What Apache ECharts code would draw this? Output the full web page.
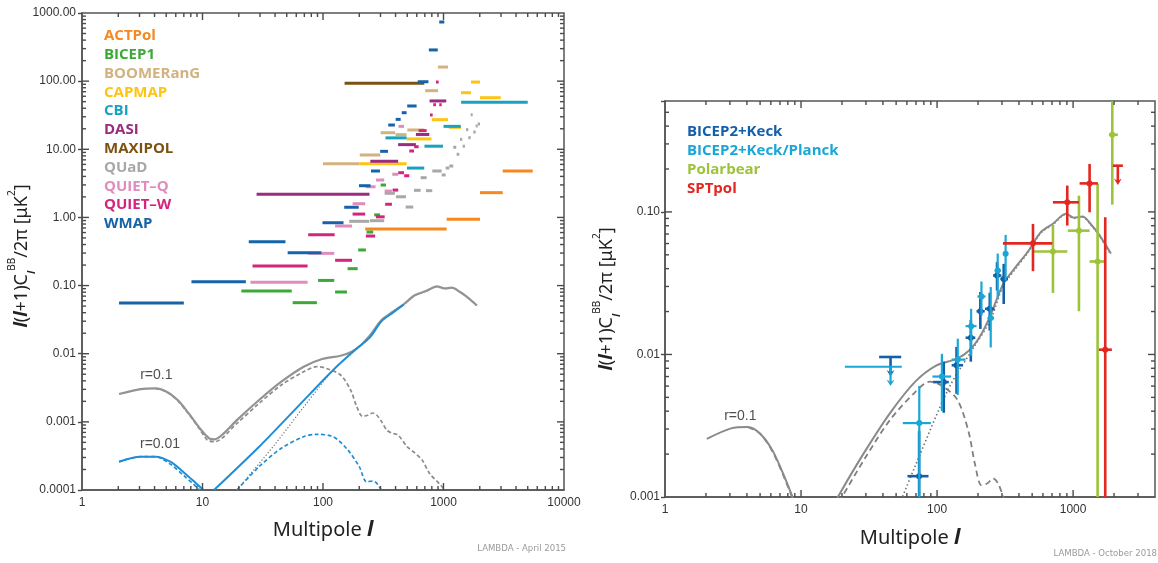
<!DOCTYPE html>
<html>
<head>
<meta charset="utf-8">
<title>CMB B-mode power spectrum</title>
<script src="https://cdn.jsdelivr.net/npm/echarts@6/dist/echarts.min.js"></script>
<style>
  html, body { margin: 0; padding: 0; background: #ffffff; }
  #chart { width: 1158px; height: 563px; }
</style>
</head>
<body>
<div id="chart"></div>
<script>
// ---------------- Left panel: BB upper limits, rows are [ell_min, ell_max, limit in uK^2] ----------------
const actpol = [[224,1062,0.676],[1062,2008,0.938],[2008,3100,2.31],[3100,5500,4.80]];
const bicep1 = [[301,333,2.99],[266,297,1.09],[230,261,0.61],[196,227,0.333],[160,194,0.177],
                [91,124,0.119],[21,55,0.083],[126,158,0.0805],[56,89,0.0561]];
const boomerang = [[899,1089,161],[704,901,72.4],[301,397,17.5],[400,494,16.4],[501,694,19.2],
                   [202,299,8.25],[100,200,6.15]];
const capmap = [[1690,2010,97],[1396,1690,67.6],[2010,2985,57.1],[800,1091,27.2],[1107,1399,21],
                [494,795,14.2],[200,494,6.15]];
const cbi = [[1400,5000,48.9],[1000,1390,21.7],[330,494,14.7],[695,990,11.1],[498,692,5.3]];
const dasi = [[766,1054,51.2],[590,762,16.5],[420,590,11.7],[247,420,6.67],[28.1,243,2.18]];
const maxipol = [[151,693,93]];
const quad = [[165,242,0.877],[245,322,0.895],[325,395,2.26],[403,488,2.01],[485,561,1.42],
              [569,646,2.50],[715,807,2.47],[646,725,3.83],[807,966,4.80],[966,1042,4.20],
              [1042,1117,5.31],[1117,1205,5.68],[1205,1276,10.7],[1285,1352,8.44],[1370,1431,14.0],
              [1442,1507,11.1],[1536,1606,19.4],[1606,1681,14.8],[1681,1746,32.1],[1766,1849,17.9],
              [1849,1922,22.0],[1922,2009,23.5]];
const quietQ = [[424,470,21.7],[376,421,4.30],[275,322,3.54],[226,273,2.82],[325,373,2.44],
                [176,224,1.59],[126,174,0.748],[75.4,124,0.297],[25,74.5,0.112]];
const quietW = [[866,912,97],[822,866,45.1],[922,966,45.1],[772,813,31.9],[622,725,18.8],
                [571,622,10.9],[520,569,9.44],[421,470,4.53],[472,520,4.09],[378,421,2.52],
                [328,373,1.56],[275,325,1.02],[227,271,0.533],[176,224,1.12],[75.4,125,0.557],
                [126,174,0.235],[26,74.5,0.194]];
const wmap = [[2.03,7.0,0.0555],[8.1,22.9,0.114],[24.2,48.8,0.44],[50.9,97,0.303],[99,148,0.836],
              [150,198,1.41],[199,248,2.92],[250,297,4.80],[298,346,9.33],[348,395,22.7],
              [401,441,27.5],[450,494,34.4],[500,598,43.2],[611,750,98],[756,896,287],[922,1016,738]];

const experimentNames = ['ACTPol','BICEP1','BOOMERanG','CAPMAP','CBI','DASI','MAXIPOL','QUaD',
                         'QUIET\u2013Q','QUIET\u2013W','WMAP'];
const experimentColors = ['#f5891f','#3aa935','#d2b27e','#fdc411','#17a3bf','#9b2b7f','#7b5213',
                          '#a8a8a8','#e08cbd','#d3247e','#1563a8'];
const experimentData = [actpol, bicep1, boomerang, capmap, cbi, dasi, maxipol, quad, quietQ, quietW, wmap];

// ---------------- Theory spectra, l(l+1)C_l^BB/2pi in uK^2 ----------------
const ellTotal = [2.03,3.06,4.06,5.03,6.22,7.69,9.51,11.35,12.6,14.5,19.3,29.5,45.1,69.1,98.4,140,173,207,
                  247,305,378,467,578,715,884,1018,1172,1351,1557,1897];
const bbTotalR01 = [0.00256,0.00303,0.0031,0.00277,0.00209,0.00133,0.000803,0.000573,0.000554,0.000641,
                    0.00106,0.00209,0.00388,0.00645,0.00836,0.00935,0.0107,0.0134,0.0188,0.031,0.041,
                    0.053,0.072,0.083,0.097,0.091,0.093,0.082,0.069,0.051];
const ellTensor = [4.06,5.03,6.22,7.69,9.51,10.96,12.6,19.3,29.5,45.1,69.1,88.5,106,140,170,190,212,235,
                   258,280,307,340,378,420,501,578,665,767,948,1018];
const bbTensorR01 = [0.0031,0.00277,0.00205,0.0013,0.000775,0.000541,0.000512,0.00095,0.00187,0.00347,
                     0.00545,0.00645,0.0061,0.00487,0.0029,0.0017,0.00121,0.00125,0.00135,0.00125,0.001,
                     0.00075,0.00068,0.00064,0.00043,0.00035,0.000275,0.000175,0.000118,0.0001];
const ellLensing = [19.3,40,70,121.6,186,247,305,378,467,578,715,884,1018,1172,1351,1557,1897];
const bbLensing = [0.0001,0.00047,0.0017,0.00577,0.0112,0.0175,0.030,0.040,0.052,0.071,0.082,0.096,
                   0.090,0.092,0.081,0.068,0.050];
const ellTotalR001 = [2.03,3.06,4.06,5.4,7.16,8.86,10.2,11.3,12.45,29.5,59.9,121.6,186,247,305,378,467];
const bbTotalR001 = [0.00026,0.000308,0.000308,0.00026,0.000175,0.000125,0.0001,null,0.0001,0.000432,
                     0.00158,0.00577,0.0115,0.0177,0.0298,0.0398,0.0525];
const ellTensorR001 = [2.03,3.06,4.06,5.4,7.16,9.51,14,19.3,29.5,45.1,69.1,88.5,121.6,161,200,230,256,276,305];
const bbTensorR001 = [0.00026,0.000308,0.000308,0.00024,0.000157,0.0001,null,0.0001,0.00022,0.00041,
                      0.000605,0.000655,0.000605,0.000386,0.00022,0.000132,0.000135,0.000128,0.0001];

// ---------------- Right panel: bandpowers, rows are [ell, value, low, high, ell_min, ell_max] ----------------
const bicepKeck = [[73.8,0.0014,0.0006,0.0029,60.6,86.5],[112,0.0064,0.0039,0.0089,93.5,122],
                   [139,0.0084,0.0053,0.0113,128,155],[177,0.0131,0.0089,0.0175,162,191],
                   [208,0.0201,0.0151,0.0274,195,224],[244,0.0209,0.0147,0.0271,225,264],
                   [276,0.0358,0.0281,0.0444,258,297],[309,0.0339,0.0226,0.0432,292,332]];
const bicepKeckPlanck = [[74,0.0033,0.0008,0.0060,56,90],[108.5,0.0070,0.0040,0.0101,92.5,127],
                         [142,0.0092,0.0052,0.0129,128,162],[178,0.0158,0.0098,0.0209,162,195],
                         [212,0.0255,0.0187,0.0325,198,227],[248,0.018,0.0112,0.0297,235,262],
                         [279,0.0388,0.0252,0.051,265,295],[319,0.0508,0.033,0.069,305,333]];
const polarbear = [[711,0.0527,0.0270,0.0811,515,906],[1104,0.0739,0.0201,0.130,916,1322],
                   [1514,0.0449,0.0005,0.158,1322,1703],[1941,0.348,0.1125,0.9,1833,2133]];
const sptpol = [[507,0.0602,0.0384,0.0824,305,703],[906,0.1168,0.0802,0.153,711,1104],
                [1322,0.1585,0.0994,0.217,1116,1521],[1723,0.0108,0.0005,0.0917,1548,1927]];
// upper limits: [ell, limit, arrow tip, ell_min, ell_max]
const bicepKeckLimit = [[45.5,0.0096,0.0070,37.5,54.5]];
const bicepKeckPlanckLimit = [[45.5,0.0082,0.0060,21,55]];
const sptpolLimit = [[2133,0.211,0.1545,1960,2322]];

const rightNames = ['BICEP2+Keck','BICEP2+Keck/Planck','Polarbear','SPTpol'];
const rightColors = ['#1460a8','#1aa6d6','#9dc33b','#e3261f'];

// ---------------- Axis ranges and tick labels ----------------
const leftRange = { xmin: 1, xmax: 10000, ymin: 0.0001, ymax: 1000 };
const rightRange = { xmin: 1, xmax: 4000, ymin: 0.001, ymax: 0.6 };
const leftXLabels = ['1','10','100','1000','10000'];          // exponents 0..4
const leftYLabels = ['0.0001','0.001','0.01','0.10','1.00','10.00','100.00','1000.00']; // -4..3
const rightXLabels = ['1','10','100','1000'];                  // 0..3
const rightYLabels = ['0.001','0.01','0.10'];                  // -3..-1
const curveLabelsLeft = [{text:'r=0.1', at:[4.14,0.00486]}, {text:'r=0.01', at:[4.44,0.000468]}];
const curveLabelsRight = [{text:'r=0.1', at:[3.58,0.00368]}];

const AXIS_COLOR = '#555555';
const TICK_COLOR = '#4a4a4a';
const TEXT_COLOR = '#222222';
const SANS = "'Liberation Sans', Arial, sans-serif";
const HEAD = "'Open Sans', 'Noto Sans', sans-serif";
const NOTO = "'Noto Sans', sans-serif";

function pairs(xs, ys) {
  return xs.map((x, i) => [x, ys[i] === null ? '-' : ys[i]]);
}
function powerLabel(labels, offset) {
  return function (v) {
    const e = Math.log10(v);
    const r = Math.round(e);
    if (Math.abs(e - r) > 1e-6) return '';
    const s = labels[r + offset];
    return s === undefined ? '' : s;
  };
}
// 2..9 x 10^k strictly between lo and hi
function decadeSteps(lo, hi) {
  const out = [];
  for (let e = Math.round(Math.log10(lo)); Math.pow(10, e) < hi; e++) {
    for (let m = 2; m <= 9; m++) {
      const v = +(m * Math.pow(10, e)).toPrecision(6);
      if (v > lo && v < hi) out.push(v);
    }
  }
  return out;
}
// powers of ten strictly inside (lo, hi)
function decadePowers(lo, hi) {
  const out = [];
  for (let e = Math.round(Math.log10(lo)) + 1; Math.pow(10, e) < hi * 0.999; e++) {
    out.push(+Math.pow(10, e).toPrecision(6));
  }
  return out;
}

// inward tick marks on both opposite edges of a grid; the tick value is always dimension 0
function edgeTicks(dir, len, rg) {
  return function (params, api) {
    const v = api.value(0);
    const mk = (x1, y1, x2, y2) => ({ type: 'line', shape: { x1: x1, y1: y1, x2: x2, y2: y2 },
                                      style: { stroke: TICK_COLOR, lineWidth: 1.4 } });
    if (dir === 'x') {
      const pb = api.coord([v, rg.ymin]), pt = api.coord([v, rg.ymax]);
      const x = pb[0];
      return { type: 'group', children: [ mk(x, pb[1], x, pb[1] - len), mk(x, pt[1], x, pt[1] + len) ] };
    }
    const pl = api.coord([rg.xmin, v]), pr = api.coord([rg.xmax, v]);
    const y = pl[1];
    return { type: 'group', children: [ mk(pl[0], y, pl[0] + len, y), mk(pr[0], y, pr[0] - len, y) ] };
  };
}
function tickSeries(gridIdx, rg) {
  const xRef = Math.sqrt(rg.xmin * rg.xmax), yRef = Math.sqrt(rg.ymin * rg.ymax);
  const sets = [
    ['x', 7, decadePowers(rg.xmin, rg.xmax)], ['x', 4, decadeSteps(rg.xmin, rg.xmax)],
    ['y', 7, decadePowers(rg.ymin, rg.ymax)], ['y', 4, decadeSteps(rg.ymin, rg.ymax)]
  ];
  return sets.map(([dir, len, vals]) => ({
    type: 'custom', coordinateSystem: 'cartesian2d', xAxisIndex: gridIdx, yAxisIndex: gridIdx,
    silent: true, z: 10,
    encode: dir === 'x' ? { x: 0, y: 1 } : { y: 0, x: 1 },
    renderItem: edgeTicks(dir, len, rg),
    data: vals.map(v => [v, dir === 'x' ? yRef : xRef])
  }));
}

// horizontal band bars
function renderBand(params, api) {
  const a = api.coord([api.value(0), api.value(2)]);
  const b = api.coord([api.value(1), api.value(2)]);
  return { type: 'line', shape: { x1: a[0], y1: a[1], x2: b[0], y2: b[1] },
           style: { stroke: api.visual('color'), lineWidth: 3 } };
}
// bandpower with error bars
function renderCross(lw, r) {
  return function (params, api) {
    const l = api.value(0), v = api.value(1);
    const c = api.coord([l, v]);
    const lo = api.coord([l, api.value(2)]), hi = api.coord([l, api.value(3)]);
    const a = api.coord([api.value(4), v]), b = api.coord([api.value(5), v]);
    const color = api.visual('color');
    return { type: 'group', children: [
      { type: 'line', shape: { x1: a[0], y1: c[1], x2: b[0], y2: c[1] }, style: { stroke: color, lineWidth: lw } },
      { type: 'line', shape: { x1: c[0], y1: lo[1], x2: c[0], y2: hi[1] }, style: { stroke: color, lineWidth: lw } },
      { type: 'circle', shape: { cx: c[0], cy: c[1], r: r }, style: { fill: color } }
    ]};
  };
}
// upper limit: cap plus downward arrow
function renderLimit(lw) {
  return function (params, api) {
    const l = api.value(0);
    const top = api.coord([l, api.value(1)]), tip = api.coord([l, api.value(2)]);
    const a = api.coord([api.value(3), api.value(1)]), b = api.coord([api.value(4), api.value(1)]);
    const color = api.visual('color');
    return { type: 'group', children: [
      { type: 'line', shape: { x1: a[0], y1: top[1], x2: b[0], y2: top[1] }, style: { stroke: color, lineWidth: lw } },
      { type: 'line', shape: { x1: tip[0], y1: top[1], x2: tip[0], y2: tip[1] - 3 }, style: { stroke: color, lineWidth: lw } },
      { type: 'polygon', shape: { points: [[tip[0] - 4, tip[1] - 6.5], [tip[0], tip[1]], [tip[0] + 4, tip[1] - 6.5], [tip[0], tip[1] - 4]] },
        style: { fill: color } }
    ]};
  };
}

const series = [];

// left panel bars
experimentNames.forEach((name, i) => {
  series.push({ type: 'custom', name: name, xAxisIndex: 0, yAxisIndex: 0, clip: true,
    itemStyle: { color: experimentColors[i] }, encode: { x: [0, 1], y: 2 },
    renderItem: renderBand, data: experimentData[i], z: 3 });
});

// theory curves
function curve(grid, xs, ys, color, width, type, z) {
  return { type: 'line', xAxisIndex: grid, yAxisIndex: grid, data: pairs(xs, ys), showSymbol: false,
    smooth: 0.3, clip: true, silent: true, z: z || 2, connectNulls: false,
    lineStyle: { color: color, width: width, type: type || 'solid' } };
}
series.push(curve(0, ellLensing, bbLensing, '#6f6f6f', 1.2, [1.2, 2], 2));
series.push(curve(0, ellTensor, bbTensorR01, '#8c8c8c', 1.7, [4, 2.5], 2));
series.push(curve(0, ellTotal, bbTotalR01, '#939393', 2.2, 'solid', 2));
series.push(curve(0, ellTensorR001, bbTensorR001, '#1e8fd6', 1.7, [4, 2.5], 3));
series.push(curve(0, ellTotalR001, bbTotalR001, '#1e8fd6', 2, 'solid', 3));
series.push(curve(1, ellLensing, bbLensing, '#6f6f6f', 1.6, [1.5, 2.5], 2));
series.push(curve(1, ellTensor, bbTensorR01, '#808080', 1.8, [6, 4], 2));
series.push(curve(1, ellTotal, bbTotalR01, '#8a8a8a', 2, 'solid', 2));

// right panel bandpowers
const rightSets = [
  [bicepKeckPlanck, bicepKeckPlanckLimit, 1, 2.2],
  [bicepKeck, bicepKeckLimit, 0, 2.6],
  [polarbear, null, 2, 2.6],
  [sptpol, sptpolLimit, 3, 2.6]
];
rightSets.forEach(([pts, lim, ci, lw]) => {
  const common = { type: 'custom', name: rightNames[ci], xAxisIndex: 1, yAxisIndex: 1, clip: true,
    itemStyle: { color: rightColors[ci] }, encode: { x: [0, 4, 5], y: [1, 2, 3] }, z: 4 + ci * 0.1 };
  series.push(Object.assign({ renderItem: renderCross(lw, 3), data: pts }, common));
  if (lim) {
    series.push(Object.assign({}, common, { renderItem: renderLimit(lw), data: lim,
      encode: { x: [0, 3, 4], y: [1, 2] } }));
  }
});

// curve annotations
function annotations(grid, list) {
  return { type: 'scatter', xAxisIndex: grid, yAxisIndex: grid, silent: true, symbolSize: 0, z: 6,
    data: list.map(d => ({ value: d.at, label: { formatter: d.text } })),
    label: { show: true, position: 'inside', color: TEXT_COLOR, fontSize: 14, fontFamily: SANS } };
}
series.push(annotations(0, curveLabelsLeft));
series.push(annotations(1, curveLabelsRight));

// edge ticks on all four sides
series.push(...tickSeries(0, leftRange));
series.push(...tickSeries(1, rightRange));

// vertical axis title, l(l+1)C_l^BB/2pi [uK^2]
const yTitleRich = {
  it:  { fontFamily: NOTO, fontSize: 18, fontStyle: 'italic', fontWeight: 'bold', fill: TEXT_COLOR, color: TEXT_COLOR, lineHeight: 30 },
  n:   { fontFamily: NOTO, fontSize: 18, fill: TEXT_COLOR, color: TEXT_COLOR, lineHeight: 30 },
  sub: { fontFamily: NOTO, fontSize: 11, fontStyle: 'italic', fontWeight: 'bold', fill: TEXT_COLOR, color: TEXT_COLOR, lineHeight: 14, verticalAlign: 'bottom' },
  sup: { fontFamily: NOTO, fontSize: 10, fill: TEXT_COLOR, color: TEXT_COLOR, lineHeight: 16, verticalAlign: 'top' }
};
const yTitle = '{it|l}{n|(}{it|l}{n|+1)C}{sub|l}{sup|BB}{n|/2\u03c0 [\u03bcK}{sup|2}{n|]}';
function yTitleGraphic(x, y) {
  return { type: 'text', x: x, y: y, rotation: Math.PI / 2, silent: true,
    style: { text: yTitle, rich: yTitleRich, align: 'center', verticalAlign: 'middle',
             textAlign: 'center', textVerticalAlign: 'middle', fill: TEXT_COLOR } };
}
const xNameStyle = { fontFamily: NOTO, fontSize: 20, color: TEXT_COLOR,
  rich: { l: { fontFamily: NOTO, fontSize: 21, fontStyle: 'italic', fontWeight: 'bold', color: TEXT_COLOR } } };

function xAxisCfg(grid, rg, labels, gap) {
  return { type: 'log', logBase: 10, gridIndex: grid, min: rg.xmin, max: rg.xmax,
    axisLine: { show: true, lineStyle: { color: AXIS_COLOR, width: 1.5 } },
    axisTick: { show: false }, splitLine: { show: false }, minorTick: { show: false },
    axisLabel: { formatter: powerLabel(labels, 0), margin: 7, fontSize: 12, color: '#333', fontFamily: SANS },
    name: 'Multipole {l|l}', nameLocation: 'middle', nameGap: gap, nameMoveOverlap: false,
    nameTextStyle: xNameStyle };
}
function yAxisCfg(grid, rg, labels, offset, margin) {
  return { type: 'log', logBase: 10, gridIndex: grid, min: rg.ymin, max: rg.ymax,
    axisLine: { show: true, lineStyle: { color: AXIS_COLOR, width: 1.5 } },
    axisTick: { show: true, inside: false, length: 4, lineStyle: { color: TICK_COLOR, width: 1.4 } },
    splitLine: { show: false },
    axisLabel: { formatter: powerLabel(labels, offset), margin: margin, fontSize: 12, color: '#333', fontFamily: SANS } };
}

const option = {
  animation: false,
  backgroundColor: '#ffffff',
  grid: [
    { left: 82, top: 13, width: 482, height: 477, show: true, borderColor: AXIS_COLOR, borderWidth: 1.5 },
    { left: 665, top: 101, width: 490.5, height: 396, show: true, borderColor: AXIS_COLOR, borderWidth: 1.5 }
  ],
  xAxis: [ xAxisCfg(0, leftRange, leftXLabels, 30), xAxisCfg(1, rightRange, rightXLabels, 31) ],
  yAxis: [ yAxisCfg(0, leftRange, leftYLabels, 4, 6), yAxisCfg(1, rightRange, rightYLabels, 3, 5) ],
  legend: [
    { orient: 'vertical', left: 99, top: 26.6, padding: 0, itemWidth: 0, itemHeight: 10, itemGap: 0, icon: 'none',
      selectedMode: false,
      textStyle: { fontFamily: HEAD, fontWeight: 'bold', fontSize: 15, lineHeight: 18.8 },
      data: experimentNames.map((n, i) => ({ name: n, textStyle: { color: experimentColors[i] } })) },
    { orient: 'vertical', left: 682, top: 122.5, padding: 0, itemWidth: 0, itemHeight: 10, itemGap: 0, icon: 'none',
      selectedMode: false,
      textStyle: { fontFamily: HEAD, fontWeight: 'bold', fontSize: 15, lineHeight: 19 },
      data: rightNames.map((n, i) => ({ name: n, textStyle: { color: rightColors[i] } })) }
  ],
  graphic: [
    yTitleGraphic(22, 256),
    yTitleGraphic(607, 299),
    { type: 'text', right: 1158 - 566, top: 544,
      style: { text: 'LAMBDA - April 2015', fill: '#9a9a9a', fontSize: 9.5,
               fontFamily: "'Liberation Sans Narrow', 'DejaVu Sans Condensed', sans-serif" } },
    { type: 'text', right: 1, top: 549,
      style: { text: 'LAMBDA - October 2018', fill: '#9a9a9a', fontSize: 9.5,
               fontFamily: "'Liberation Sans Narrow', 'DejaVu Sans Condensed', sans-serif" } }
  ],
  series: series
};

const chart = echarts.init(document.getElementById('chart'), null, { renderer: 'canvas' });
chart.setOption(option);
</script>
</body>
</html>
